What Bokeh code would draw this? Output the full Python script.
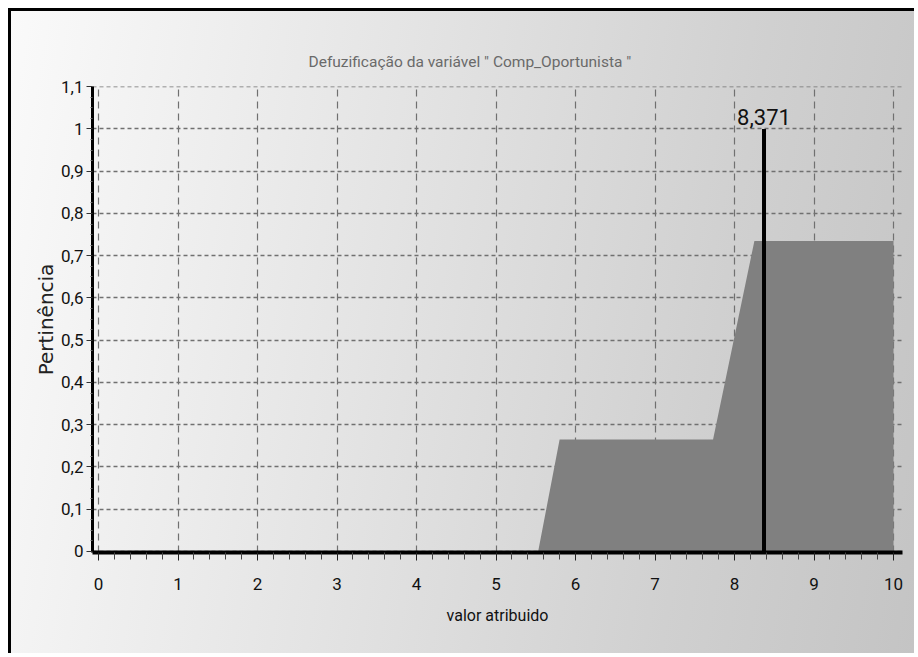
from bokeh.plotting import figure
from bokeh.models import Range1d, FixedTicker
from bokeh.core.properties import value
from bokeh.embed import file_html
from bokeh.resources import INLINE

# ---- data ----
title_text = 'Defuzificação da variável " Comp_Oportunista "'
x_label = "valor atribuido"
y_label = "Pertinência"

x_ticks = [0, 1, 2, 3, 4, 5, 6, 7, 8, 9, 10]
x_tick_labels = ["0", "1", "2", "3", "4", "5", "6", "7", "8", "9", "10"]
y_ticks = [0, 0.1, 0.2, 0.3, 0.4, 0.5, 0.6, 0.7, 0.8, 0.9, 1.0, 1.1]
y_tick_labels = ["0", "0,1", "0,2", "0,3", "0,4", "0,5", "0,6", "0,7", "0,8", "0,9", "1", "1,1"]

# aggregated (clipped) output membership
area_x = [5.53, 5.80, 7.73, 8.25, 10.0]
area_y = [0.0, 0.265, 0.265, 0.735, 0.735]

# defuzzified value (centroid)
crisp_x = [8.371]
crisp_top = [1.0]
crisp_label = ["8,371"]

FONT = "Roboto"

p = figure(width=906, height=645, output_backend="svg", toolbar_location=None,
           x_range=Range1d(-0.0755, 10.113), y_range=Range1d(-0.0024, 1.1005),
           min_border_left=81, min_border_right=15, min_border_top=75, min_border_bottom=104)

p.styles = {
    "margin-top": "8px",
    "margin-left": "8px",
    "border-top": "3px solid #000000",
    "border-left": "3px solid #000000",
    "background": "linear-gradient(100deg, #fafafa 0%, #e4e4e4 40%, #d0d0d0 75%, #c4c4c4 100%)",
}
p.background_fill_alpha = 0
p.border_fill_alpha = 0
p.outline_line_color = None

# title
p.title.text = title_text
p.title.align = "left"
p.title.offset = 216
p.title.standoff = 31
p.title.text_font = FONT
p.title.text_font_size = "15.5px"
p.title.text_font_style = "normal"
p.title.text_color = "#6a6a6a"

# x axis
xa = p.xaxis[0]
xa.ticker = FixedTicker(ticks=x_ticks,
                        minor_ticks=[t + k / 5 for t in x_ticks[:-1] for k in range(1, 5)])
xa.major_label_overrides = dict(zip(x_ticks, x_tick_labels))
xa.axis_line_color = "#000000"
xa.axis_line_width = 4
xa.major_tick_line_color = "#222222"
xa.major_tick_line_width = 1
xa.major_tick_in = 0
xa.major_tick_out = 8
xa.minor_tick_line_color = "#444444"
xa.minor_tick_in = 0
xa.minor_tick_out = 7
xa.major_label_standoff = 17
xa.major_label_text_font = FONT
xa.major_label_text_font_size = "17px"
xa.major_label_text_color = "#111111"
xa.axis_label = x_label
xa.axis_label_standoff = 13
xa.axis_label_text_font = FONT
xa.axis_label_text_font_size = "16px"
xa.axis_label_text_font_style = "normal"
xa.axis_label_text_color = "#111111"

# y axis
ya = p.yaxis[0]
ya.ticker = FixedTicker(ticks=y_ticks,
                        minor_ticks=[round(t + k / 40, 4) for t in y_ticks[:-1] for k in range(1, 4)])
ya.major_label_overrides = dict(zip(y_ticks, y_tick_labels))
ya.axis_line_color = "#000000"
ya.axis_line_width = 3
ya.major_tick_line_color = "#333333"
ya.major_tick_in = 0
ya.major_tick_out = 6
ya.minor_tick_line_color = "#666666"
ya.minor_tick_in = 0
ya.minor_tick_out = 2
ya.major_label_standoff = 3
ya.major_label_text_font = FONT
ya.major_label_text_font_size = "17px"
ya.major_label_text_color = "#111111"
ya.axis_label = y_label
ya.axis_label_standoff = 0
ya.axis_label_text_font = "DejaVu Sans"
ya.axis_label_text_font_size = "20px"
ya.axis_label_text_font_style = "normal"
ya.axis_label_text_color = "#222222"

# grids
p.xgrid.grid_line_color = "#707070"
p.xgrid.grid_line_dash = "7 5"
p.xgrid.grid_line_width = 1.2
p.ygrid.grid_line_color = "#707070"
p.ygrid.grid_line_dash = "4 3"
p.ygrid.grid_line_width = 1.6

# membership area
p.varea(x=area_x, y1=[0] * len(area_x), y2=area_y, fill_color="#808080", fill_alpha=1.0)

# crisp value line + label
p.segment(x0=crisp_x, y0=[0] * len(crisp_x), x1=crisp_x, y1=crisp_top,
          line_color="#000000", line_width=4)
p.text(x=crisp_x, y=crisp_top, text=crisp_label, text_align="center",
       text_baseline="bottom", y_offset=-4, text_font=value(FONT),
       text_font_size="22px", text_color="#111111")

open("out.html", "w").write(file_html(p, INLINE))
